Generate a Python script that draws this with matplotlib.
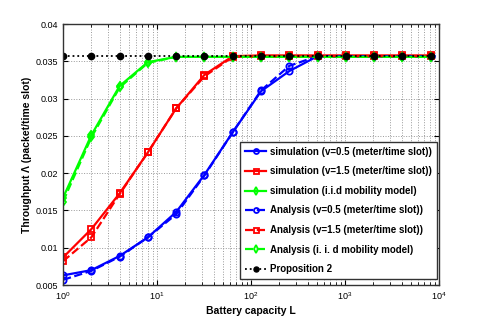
import matplotlib
matplotlib.use("Agg")
import matplotlib.pyplot as plt

# battery capacity L = 2^0 .. 2^13
L = [1, 2, 4, 8, 16, 32, 64, 128, 256, 512, 1024, 2048, 4096, 8192]

sim_v05 = [0.0063, 0.0070, 0.0089, 0.0114, 0.0148, 0.0198, 0.0255, 0.0310, 0.0337, 0.0357,
           0.0357, 0.0357, 0.0357, 0.0357]
sim_v15 = [0.0087, 0.0125, 0.0173, 0.0228, 0.0287, 0.0332, 0.0357, 0.0358, 0.0358, 0.0358,
           0.0358, 0.0358, 0.0358, 0.0358]
sim_iid = [0.0167, 0.0251, 0.0317, 0.0349, 0.0356, 0.0356, 0.0356, 0.0356, 0.0356, 0.0356,
           0.0356, 0.0356, 0.0356, 0.0356]

ana_v05 = [0.0057, 0.0069, 0.0088, 0.0114, 0.0145, 0.0197, 0.0255, 0.0311, 0.0344, 0.0357,
           0.0357, 0.0357, 0.0357, 0.0357]
ana_v15 = [0.0082, 0.0114, 0.0172, 0.0228, 0.0287, 0.0330, 0.0356, 0.0357, 0.0357, 0.0357,
           0.0357, 0.0357, 0.0357, 0.0357]
ana_iid = [0.0162, 0.0248, 0.0315, 0.0348, 0.0356, 0.0356, 0.0356, 0.0356, 0.0356, 0.0356,
           0.0356, 0.0356, 0.0356, 0.0356]

prop2 = [0.0357] * len(L)

labels = [
    "simulation (v=0.5 (meter/time slot))",
    "simulation (v=1.5 (meter/time slot))",
    "simulation (i.i.d mobility model)",
    "Analysis (v=0.5 (meter/time slot))",
    "Analysis (v=1.5 (meter/time slot))",
    "Analysis (i. i. d mobility model)",
    "Proposition 2",
]

plt.rcParams["font.family"] = ["Liberation Sans", "DejaVu Sans"]

fig = plt.figure(figsize=(4.85, 3.21), dpi=100)
ax = fig.add_axes([0.130, 0.112, 0.775, 0.813])

mk = dict(markersize=4.5, markerfacecolor="none", markeredgewidth=1.3)
ax.plot(L, sim_v05, "-o", color="#0000ff", lw=1.6, label=labels[0], **mk)
ax.plot(L, sim_v15, "-s", color="#ff0000", lw=1.6, label=labels[1], **mk)
ax.plot(L, sim_iid, "-d", color="#00ff00", lw=1.6, label=labels[2], **mk)
ax.plot(L, ana_v05, "--o", color="#0000ff", lw=1.6, label=labels[3], **mk)
ax.plot(L, ana_v15, "--s", color="#ff0000", lw=1.6, label=labels[4], **mk)
ax.plot(L, ana_iid, "--d", color="#00ff00", lw=1.6, label=labels[5], **mk)
ax.plot(L, prop2, ":o", color="black", lw=1.3, markersize=4.5, label=labels[6])

ax.set_xscale("log")
ax.set_xlim(1, 1e4)
ax.set_ylim(0.005, 0.04)
ax.set_yticks([0.005, 0.01, 0.015, 0.02, 0.025, 0.03, 0.035, 0.04])
ax.set_yticklabels(["0.005", "0.01", "0.015", "0.02", "0.025", "0.03", "0.035", "0.04"])

ax.grid(True, which="major", linestyle=":", color="#999999", lw=0.7)
ax.grid(True, which="minor", axis="x", linestyle=":", color="#999999", lw=0.7)
ax.tick_params(which="both", direction="in", labelsize=6.5, top=True, right=True)
for s in ax.spines.values():
    s.set_linewidth(1.0)
    s.set_color("#333333")

ax.set_xlabel("Battery capacity L", fontsize=7.5, fontweight="bold", labelpad=3)
ax.set_ylabel("Throughput \u039b (packet/time slot)", fontsize=7.5, fontweight="bold", labelpad=3)

leg = ax.legend(loc="upper right", prop={"weight": "bold", "size": 7.0},
                handlelength=2.2, handletextpad=0.4, markerscale=0.8,
                fancybox=False, framealpha=1, edgecolor="#333333",
                borderpad=0.5, labelspacing=0.98, borderaxespad=0,
                bbox_to_anchor=(0.995, 0.548))
leg.get_frame().set_linewidth(1.0)

plt.savefig("out.png", dpi=100)
